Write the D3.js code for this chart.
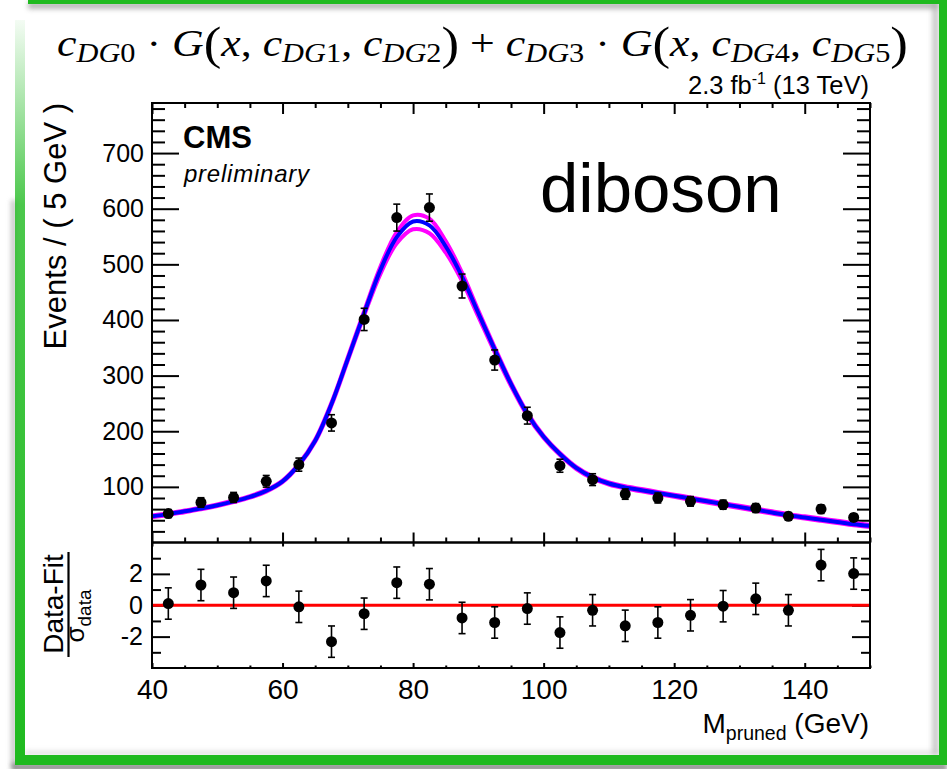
<!DOCTYPE html>
<html>
<head>
<meta charset="utf-8">
<script src="https://cdn.jsdelivr.net/npm/d3@7"></script>
<style>
  html, body { margin: 0; padding: 0; background: #fff; }
  svg { display: block; }
  text { font-family: "Liberation Sans", Arial, Helvetica, sans-serif; fill: #000; }
  .math { font-family: "Liberation Serif", "Times New Roman", serif; }
</style>
</head>
<body>
<svg id="chart" width="947" height="769"></svg>
<script>
// ---- data ----
var binCenters = [42.5, 47.5, 52.5, 57.5, 62.5, 67.5, 72.5, 77.5, 82.5, 87.5, 92.5,
                  97.5, 102.5, 107.5, 112.5, 117.5, 122.5, 127.5, 132.5, 137.5, 142.5, 147.5];
var counts    = [52, 72, 81, 110, 140, 215, 401, 584, 602, 461, 328,
                 228, 138, 113, 87, 80, 74, 68, 62, 47, 60, 45];
var countErr  = [7.2, 8.5, 9.0, 10.5, 11.8, 14.7, 20.0, 24.2, 24.5, 21.5, 18.1,
                 15.1, 11.7, 10.6, 9.3, 8.9, 8.6, 8.2, 7.9, 6.9, 7.7, 6.7];
var pulls     = [0.11, 1.29, 0.80, 1.55, -0.10, -2.32, -0.54, 1.44, 1.34, -0.81, -1.10,
                 -0.21, -1.74, -0.32, -1.31, -1.10, -0.64, -0.06, 0.41, -0.32, 2.56, 2.02];
var pullErr   = [1, 1, 1, 1, 1, 1, 1, 1, 1, 1, 1, 1, 1, 1, 1, 1, 1, 1, 1, 1, 1, 1];

// fit curve (blue) and its band edges (magenta), sampled every 2.5 GeV
var fitX   = [40, 42.5, 45, 47.5, 50, 52.5, 55, 57.5, 60, 62.5, 65, 67.5, 70, 72.5, 75,
              77.5, 80, 82.5, 85, 87.5, 90, 92.5, 95, 97.5, 100, 102.5, 105, 107.5, 110,
              112.5, 115, 117.5, 120, 122.5, 125, 127.5, 130, 132.5, 135, 137.5, 140,
              142.5, 145, 147.5, 150];
var fitY   = [47, 51, 56, 61, 67, 74, 82, 93, 110, 140, 183, 249, 330, 412, 490,
              549, 577, 570, 532, 478, 412, 347, 285, 231, 190, 159, 134, 117, 106,
              99, 94, 89, 84, 79, 74, 69, 64, 59, 54, 49, 45, 41, 37, 33, 30];
var bandHi = [48.5, 52.5, 57.5, 62.5, 68.5, 75.5, 83.5, 94.5, 111.5, 141.5, 185, 251.5, 333, 416, 496,
              558, 588, 582, 542, 485, 417, 351, 288, 233.5, 192, 161, 136, 119, 108,
              101, 96, 91, 86, 81, 76, 71, 66, 61, 56, 51, 47, 43, 39, 35, 32];
var bandLo = [45.5, 49.5, 54.5, 59.5, 65.5, 72.5, 80.5, 91.5, 108.5, 138.5, 181, 246.5, 327, 408, 483,
              538, 563, 556, 521, 470, 406, 342, 281, 228, 188, 157, 132, 115, 104,
              97, 92, 87, 82, 77, 72, 67, 62, 57, 52, 47, 43, 39, 35, 31, 28];

// tick labels
var xTickLabels    = [40, 60, 80, 100, 120, 140];
var yTickLabels    = [100, 200, 300, 400, 500, 600, 700];
var pullTickLabels = [-2, 0, 2];

// ---- layout ----
var L = 152, R = 870, T = 103, M = 542.5, B = 668;
var green = "#1fba1f";

var svg = d3.select('#chart');
var defs = svg.append('defs');

defs.append('filter').attr('id', 'soft')
    .attr('filterUnits', 'userSpaceOnUse')
    .attr('x', 0).attr('y', 0).attr('width', 947).attr('height', 769)
  .append('feGaussianBlur').attr('stdDeviation', 2.5);

var fade = defs.append('linearGradient').attr('id', 'leftFade')
    .attr('x1', 0).attr('y1', 0).attr('x2', 0).attr('y2', 1);
fade.append('stop').attr('offset', '0%').attr('stop-color', green).attr('stop-opacity', 0.05);
fade.append('stop').attr('offset', '25%').attr('stop-color', green).attr('stop-opacity', 0.8);
fade.append('stop').attr('offset', '100%').attr('stop-color', green).attr('stop-opacity', 1);

defs.append('clipPath').attr('id', 'upperClip')
  .append('rect').attr('x', L).attr('y', T).attr('width', R - L).attr('height', M - T);

// ---- picture frame (green border with shadow) ----
var frame = svg.append('g');
frame.append('rect').attr('x', 0).attr('y', 0).attr('width', 947).attr('height', 769).attr('fill', '#fff');
frame.append('rect').attr('x', 11).attr('y', 200).attr('width', 5).attr('height', 569)
    .attr('fill', '#999').attr('opacity', 0.6).attr('filter', 'url(#soft)');
frame.append('rect').attr('x', 12).attr('y', 763).attr('width', 935).attr('height', 8)
    .attr('fill', '#777').attr('opacity', 0.8).attr('filter', 'url(#soft)');
frame.append('rect').attr('x', 28).attr('y', 2).attr('width', 910).attr('height', 7)
    .attr('fill', '#999').attr('opacity', 0.7).attr('filter', 'url(#soft)');
frame.append('rect').attr('x', 932).attr('y', 0).attr('width', 7).attr('height', 755)
    .attr('fill', '#aaa').attr('opacity', 0.6).attr('filter', 'url(#soft)');
frame.append('rect').attr('x', 25).attr('y', 751).attr('width', 914).attr('height', 4)
    .attr('fill', '#bbb').attr('opacity', 0.5).attr('filter', 'url(#soft)');
frame.append('rect').attr('x', 28).attr('y', 0).attr('width', 919).attr('height', 4).attr('fill', green);
frame.append('rect').attr('x', 939).attr('y', 0).attr('width', 8).attr('height', 765).attr('fill', green);
frame.append('rect').attr('x', 15).attr('y', 755).attr('width', 932).attr('height', 10).attr('fill', green);
frame.append('rect').attr('x', 15).attr('y', 20).attr('width', 10).attr('height', 740).attr('fill', 'url(#leftFade)');

// ---- scales ----
var x = d3.scaleLinear().domain([40, 150]).range([L, R]);
var yTop = d3.scaleLinear().domain([0, 790]).range([M, T]);
var yPull = d3.scaleLinear().domain([-4, 4]).range([B, M]);

var xMinor = x.ticks(22).filter(function(d) { return xTickLabels.indexOf(d) < 0; });
var yMinor = yTop.ticks(40).filter(function(d) { return d % 100 !== 0; });
var pullMinor = yPull.ticks(8).filter(function(d) { return d % 2 !== 0; });

function addAxis(axis, tx, ty, size) {
  var g = svg.append('g')
      .attr('transform', 'translate(' + tx + ',' + ty + ')')
      .call(axis);
  g.select('.domain').remove();
  g.selectAll('line').attr('stroke', '#000').attr('stroke-width', 2);
  g.selectAll('text').style('font-size', size + 'px').attr('fill', '#000');
  return g;
}
var noLabel = function() { return ''; };
var plain = function(d) { return String(d); };

// upper pad axes
addAxis(d3.axisLeft(yTop).tickValues(yTickLabels).tickSize(-27).tickPadding(8).tickFormat(plain), L, 0, 25);
addAxis(d3.axisLeft(yTop).tickValues(yMinor).tickSize(-13).tickFormat(noLabel), L, 0, 25);
addAxis(d3.axisRight(yTop).tickValues(yTickLabels).tickSize(-27).tickFormat(noLabel), R, 0, 25);
addAxis(d3.axisRight(yTop).tickValues(yMinor).tickSize(-13).tickFormat(noLabel), R, 0, 25);
addAxis(d3.axisTop(x).tickValues(xTickLabels).tickSize(-11).tickFormat(noLabel), 0, T, 25);
addAxis(d3.axisTop(x).tickValues(xMinor).tickSize(-5).tickFormat(noLabel), 0, T, 25);
addAxis(d3.axisBottom(x).tickValues(xTickLabels).tickSize(-10).tickFormat(noLabel), 0, M, 25);
addAxis(d3.axisBottom(x).tickValues(xMinor).tickSize(-5).tickFormat(noLabel), 0, M, 25);

// lower pad axes
addAxis(d3.axisTop(x).tickValues(xTickLabels).tickSize(-4).tickFormat(noLabel), 0, M, 25);
addAxis(d3.axisBottom(x).tickValues(xTickLabels).tickSize(-5).tickPadding(11).tickFormat(plain), 0, B, 28);
addAxis(d3.axisBottom(x).tickValues(xMinor).tickSize(-2.5).tickFormat(noLabel), 0, B, 28);
addAxis(d3.axisLeft(yPull).tickValues(pullTickLabels).tickSize(-18).tickPadding(9).tickFormat(plain), L, 0, 25);
addAxis(d3.axisLeft(yPull).tickValues(pullMinor).tickSize(-9).tickFormat(noLabel), L, 0, 25);
addAxis(d3.axisRight(yPull).tickValues(pullTickLabels).tickSize(-18).tickFormat(noLabel), R, 0, 25);
addAxis(d3.axisRight(yPull).tickValues(pullMinor).tickSize(-9).tickFormat(noLabel), R, 0, 25);

// ---- upper pad: fit curves ----
var line = d3.line()
    .x(function(d) { return x(d[0]); })
    .y(function(d) { return yTop(d[1]); })
    .curve(d3.curveCatmullRom.alpha(0.5));

var curves = svg.append('g').attr('clip-path', 'url(#upperClip)');
[bandHi, bandLo].forEach(function(band) {
  curves.append('path')
      .datum(fitX.map(function(v, i) { return [v, band[i]]; }))
      .attr('d', line)
      .attr('fill', 'none')
      .attr('stroke', '#ff00ff')
      .attr('stroke-width', 4);
});
curves.append('path')
    .datum(fitX.map(function(v, i) { return [v, fitY[i]]; }))
    .attr('d', line)
    .attr('fill', 'none')
    .attr('stroke', '#0000ff')
    .attr('stroke-width', 4);

// ---- data points with error bars ----
function drawPoints(yScale, vals, errs) {
  var g = svg.append('g');
  var pts = g.selectAll('g').data(binCenters).enter().append('g');
  pts.append('line')
      .attr('x1', function(d) { return x(d); })
      .attr('x2', function(d) { return x(d); })
      .attr('y1', function(d, i) { return yScale(vals[i] - errs[i]); })
      .attr('y2', function(d, i) { return yScale(vals[i] + errs[i]); })
      .attr('stroke', '#000').attr('stroke-width', 1.6);
  [-1, 1].forEach(function(s) {
    pts.append('line')
        .attr('x1', function(d) { return x(d) - 3.5; })
        .attr('x2', function(d) { return x(d) + 3.5; })
        .attr('y1', function(d, i) { return yScale(vals[i] + s * errs[i]); })
        .attr('y2', function(d, i) { return yScale(vals[i] + s * errs[i]); })
        .attr('stroke', '#000').attr('stroke-width', 1.6);
  });
  pts.append('circle')
      .attr('cx', function(d) { return x(d); })
      .attr('cy', function(d, i) { return yScale(vals[i]); })
      .attr('r', 5.5)
      .attr('fill', '#000');
}
drawPoints(yTop, counts, countErr);

// red zero line in the pull pad
svg.append('path')
    .datum([[40, 0], [150, 0]])
    .attr('d', d3.line().x(function(d) { return x(d[0]); }).y(function(d) { return yPull(d[1]); }))
    .attr('stroke', '#ff0000').attr('stroke-width', 3);

drawPoints(yPull, pulls, pullErr);

// pad frames
svg.append('rect').attr('x', L).attr('y', T).attr('width', R - L).attr('height', M - T)
    .attr('fill', 'none').attr('stroke', '#000').attr('stroke-width', 2);
svg.append('rect').attr('x', L).attr('y', M).attr('width', R - L).attr('height', B - M)
    .attr('fill', 'none').attr('stroke', '#000').attr('stroke-width', 2);

// ---- texts ----
svg.append('text').attr('x', 183).attr('y', 148)
    .style('font-size', '31px').style('font-weight', 'bold').text('CMS');
svg.append('text').attr('x', 184).attr('y', 182)
    .attr('textLength', 125).attr('lengthAdjust', 'spacing')
    .style('font-size', '24px').style('font-style', 'italic').text('preliminary');
svg.append('text').attr('x', 540).attr('y', 212)
    .style('font-size', '69px').text('diboson');

var lumi = svg.append('text').attr('x', 869).attr('y', 94)
    .attr('text-anchor', 'end').style('font-size', '25.5px');
lumi.append('tspan').text('2.3 fb');
lumi.append('tspan').attr('dy', -10).style('font-size', '16px').text('-1');
lumi.append('tspan').attr('dy', 10).style('white-space', 'pre').text(' (13 TeV)');

// y titles
svg.append('text').attr('transform', 'translate(66,' + T + ') rotate(-90)')
    .attr('text-anchor', 'end').style('font-size', '31px').text('Events / ( 5 GeV )');

svg.append('text').attr('transform', 'translate(63,604) rotate(-90)')
    .attr('text-anchor', 'middle').style('font-size', '28px').text('Data-Fit');
svg.append('line').attr('x1', 68.5).attr('x2', 68.5).attr('y1', 552).attr('y2', 657)
    .attr('stroke', '#000').attr('stroke-width', 2.2);
var sig = svg.append('text').attr('transform', 'translate(84,616) rotate(-90)')
    .attr('text-anchor', 'middle').style('font-size', '26px');
sig.append('tspan').text('σ');
sig.append('tspan').attr('dy', 7).style('font-size', '19px').text('data');

// x title
var xt = svg.append('text').attr('x', 869).attr('y', 733)
    .attr('text-anchor', 'end').style('font-size', '28px');
xt.append('tspan').text('M');
xt.append('tspan').attr('dy', 7).style('font-size', '19.5px').text('pruned');
xt.append('tspan').attr('dy', -7).style('white-space', 'pre').text(' (GeV)');

// formula header
var pieces = [
  ['c', 'i'], ['DG', 'si'], ['0', 'sr'], [' · ', 'r'], ['G', 'i'], ['(', 'p'], ['x', 'i'], [', ', 'r'],
  ['c', 'i'], ['DG', 'si'], ['1', 'sr'], [', ', 'r'], ['c', 'i'], ['DG', 'si'], ['2', 'sr'], [')', 'p'],
  [' + ', 'r'], ['c', 'i'], ['DG', 'si'], ['3', 'sr'], [' · ', 'r'], ['G', 'i'], ['(', 'p'], ['x', 'i'],
  [', ', 'r'], ['c', 'i'], ['DG', 'si'], ['4', 'sr'], [', ', 'r'], ['c', 'i'], ['DG', 'si'], ['5', 'sr'], [')', 'p']
];
var formula = svg.append('text').attr('class', 'math')
    .attr('x', 0).attr('y', 0).style('white-space', 'pre').style('font-size', '39px');
var shift = 0;
pieces.forEach(function(p) {
  var sub = p[1] === 'si' || p[1] === 'sr';
  var target = sub ? 6 : (p[1] === 'p' ? 3 : 0);
  var ts = formula.append('tspan').attr('dy', target - shift).text(p[0]);
  shift = target;
  if (p[1] === 'i' || p[1] === 'si') ts.style('font-style', 'italic');
  if (sub) ts.style('font-size', '27px');
  if (p[1] === 'p') ts.style('font-size', '47px').style('font-weight', '300');
});
var fw = formula.node().getComputedTextLength();
formula.attr('transform', 'translate(57,56) scale(' + (851 / fw) + ',1)');
</script>
</body>
</html>
